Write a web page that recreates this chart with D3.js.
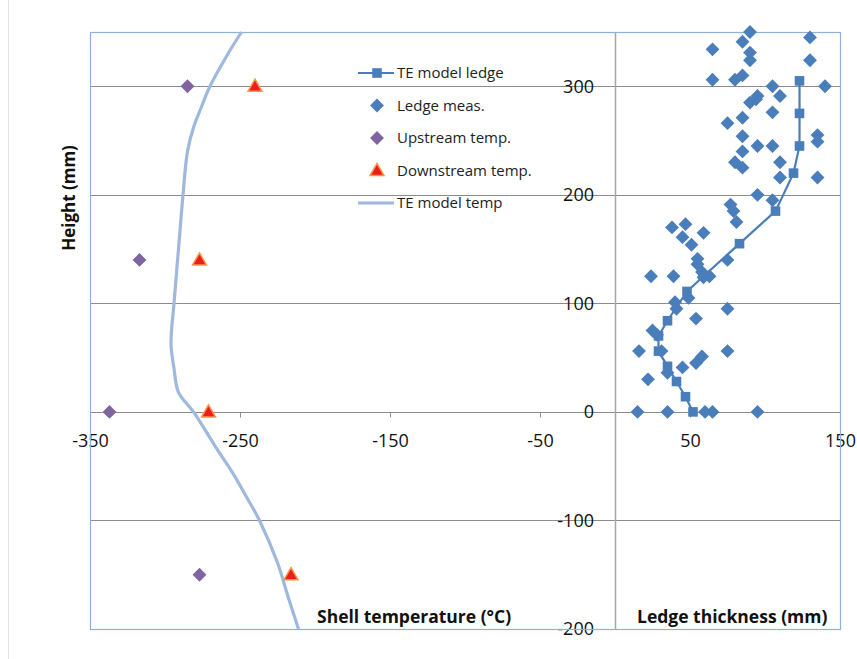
<!DOCTYPE html>
<html>
<head>
<meta charset="utf-8">
<script src="https://cdn.jsdelivr.net/npm/d3@7"></script>
<style>
  body { margin: 0; background: #fff; }
  svg { font-family: "Open Sans", "Liberation Sans", sans-serif; }
</style>
</head>
<body>
<div id="chart"></div>
<script>
// x ticks (shared axis: temperature left of 0, ledge thickness right of 0)
const xTicks = [-350, -250, -150, -50, 50, 150]
const yTicks = [300, 200, 100, 0, -100, -200]
const yGrid = [300, 200, 100, 0, -100]

// TE model temp : [temperature, height]
const modelTemp = [
  [-249, 350], [-258, 330], [-270, 300], [-276, 280], [-281, 262], [-285, 240],
  [-288, 200], [-291, 150], [-294, 100], [-296, 63], [-294, 40], [-291, 18],
  [-281, 0], [-265, -35], [-255, -56], [-245, -80], [-237, -100], [-225, -139],
  [-218, -170], [-211, -200]
]
// upstream / downstream shell temps : [temperature, height]
const upstream = [[-285, 300], [-317, 140], [-337, 0], [-277, -150]]
const downstream = [[-240, 300], [-277, 140], [-271, 0], [-216, -150]]

// TE model ledge : [thickness, height]
const modelLedge = [
  [52, 0], [47, 14], [41, 28], [35, 42], [29, 56], [29, 70], [35, 84], [48, 111],
  [59, 125], [83, 155], [107, 185], [119, 220], [123, 245], [123, 275], [123, 305]
]
// ledge measurements : [thickness, height]
const ledgeMeas = [
  [90, 350], [130, 345], [85, 341], [65, 334], [90, 331], [90, 324], [130, 324],
  [85, 310], [65, 306], [80, 306], [105, 300], [140, 300], [95, 291], [110, 291],
  [90, 285], [94, 288], [105, 276], [85, 271], [75, 266], [85, 254], [135, 255],
  [135, 249], [95, 245], [105, 245], [85, 240], [80, 230], [110, 230], [85, 225],
  [110, 216], [135, 216], [95, 200], [105, 195], [77, 191], [79, 185], [81, 175],
  [47, 173], [38, 170], [59, 165], [45, 161], [51, 154], [55, 141], [75, 140],
  [55, 136], [58, 129], [24, 125], [39, 125], [59, 124], [63, 125], [49, 105],
  [40, 101], [41, 95], [75, 95], [54, 86], [25, 75], [28, 71], [16, 56], [31, 56],
  [75, 56], [58, 51], [54, 45], [45, 41], [35, 36], [22, 30], [15, 0], [35, 0],
  [60, 0], [65, 0], [95, 0]
]

const legendItems = ['TE model ledge', 'Ledge meas.', 'Upstream temp.', 'Downstream temp.', 'TE model temp']

const width = 857, height = 659
const ledgeBlue = '#4a7ebb', purple = '#8064a2', tempLine = '#9fb8dd'

const svg = d3.select('#chart').append('svg')
  .attr('width', width)
  .attr('height', height)

const x = d3.scaleLinear().domain([-350, 150]).range([90, 840])
const y = d3.scaleLinear().domain([-200, 350]).range([629, 32])

// faint outer frame line
svg.append('line')
  .attr('x1', 8.5).attr('x2', 8.5).attr('y1', 0).attr('y2', height)
  .attr('stroke', '#e4e4e4')

// horizontal gridlines
svg.append('g').selectAll('line').data(yGrid).join('line')
  .attr('x1', x(-350)).attr('x2', x(150))
  .attr('y1', d => Math.round(y(d)) + 0.5).attr('y2', d => Math.round(y(d)) + 0.5)
  .attr('stroke', '#8c8c8c')

// vertical axis line at x = 0
svg.append('line')
  .attr('x1', Math.round(x(0)) + 0.5).attr('x2', Math.round(x(0)) + 0.5)
  .attr('y1', y(350)).attr('y2', y(-200))
  .attr('stroke', '#a6a6a6').attr('stroke-width', 1.5)

// plain hyphen minus like the original
const fmt = d => String(d)

// x axis on the zero line
const xAxis = svg.append('g')
  .attr('transform', `translate(0,${Math.round(y(0)) + 0.5})`)
  .call(d3.axisBottom(x).tickValues(xTicks).tickSize(5).tickFormat(fmt))
xAxis.select('.domain').remove()
xAxis.selectAll('line').attr('stroke', '#8c8c8c')
xAxis.selectAll('text')
  .attr('y', 22).attr('dy', '0.71em')
  .attr('font-size', 18).attr('fill', '#111')
  .attr('font-family', '"Open Sans", sans-serif')

// y axis labels beside x = 0
const yAxis = svg.append('g')
  .attr('transform', `translate(${x(0)},0)`)
  .call(d3.axisLeft(y).tickValues(yTicks).tickSize(0).tickPadding(21).tickFormat(fmt))
yAxis.select('.domain').remove()
yAxis.selectAll('text')
  .attr('font-size', 18).attr('fill', '#111')
  .attr('font-family', '"Open Sans", sans-serif')

// plot border
svg.append('rect')
  .attr('x', x(-350) + 0.5).attr('y', y(350) + 0.5)
  .attr('width', x(150) - x(-350)).attr('height', y(-200) - y(350))
  .attr('fill', 'none').attr('stroke', '#8eb0dc').attr('stroke-width', 1.2)

const diamond = d3.symbol().type(d3.symbolSquare).size(96)
const square = d3.symbol().type(d3.symbolSquare).size(92)
const triangle = d3.symbol().type(d3.symbolTriangle).size(84)

// TE model temp line
const tempPath = d3.line()
  .x(d => x(d[0])).y(d => y(d[1]))
  .curve(d3.curveCatmullRom)
svg.append('path')
  .datum(modelTemp)
  .attr('d', tempPath)
  .attr('fill', 'none').attr('stroke', tempLine).attr('stroke-width', 3.2)

// upstream temps
svg.append('g').selectAll('path').data(upstream).join('path')
  .attr('d', diamond)
  .attr('transform', d => `translate(${x(d[0])},${y(d[1])}) rotate(45)`)
  .attr('fill', purple)

// downstream temps
svg.append('g').selectAll('path').data(downstream).join('path')
  .attr('d', triangle)
  .attr('transform', d => `translate(${x(d[0])},${y(d[1]) + 1})`)
  .attr('fill', '#ee1c1c').attr('stroke', '#f79646').attr('stroke-width', 1.5)

// ledge measurements
svg.append('g').selectAll('path').data(ledgeMeas).join('path')
  .attr('d', diamond)
  .attr('transform', d => `translate(${x(d[0])},${y(d[1])}) rotate(45)`)
  .attr('fill', ledgeBlue)

// TE model ledge
svg.append('path')
  .datum(modelLedge)
  .attr('d', d3.line().x(d => x(d[0])).y(d => y(d[1])))
  .attr('fill', 'none').attr('stroke', ledgeBlue).attr('stroke-width', 2.2)
svg.append('g').selectAll('path').data(modelLedge).join('path')
  .attr('d', square)
  .attr('transform', d => `translate(${x(d[0])},${y(d[1])})`)
  .attr('fill', ledgeBlue)

// legend
const legend = svg.append('g').attr('transform', 'translate(377,73)')
const item = legend.selectAll('g').data(legendItems).join('g')
  .attr('transform', (d, i) => `translate(0,${i * 32.5})`)
item.append('text')
  .attr('x', 20).attr('dy', '0.35em')
  .attr('font-size', 15).attr('fill', '#222')
  .text(d => d)
item.filter((d, i) => i === 0).append('line')
  .attr('x1', -19).attr('x2', 17).attr('stroke', ledgeBlue).attr('stroke-width', 2.2)
item.filter((d, i) => i === 0).append('path').attr('d', square).attr('fill', ledgeBlue)
item.filter((d, i) => i === 1).append('path').attr('d', diamond).attr('transform', 'rotate(45)').attr('fill', ledgeBlue)
item.filter((d, i) => i === 2).append('path').attr('d', diamond).attr('transform', 'rotate(45)').attr('fill', purple)
item.filter((d, i) => i === 3).append('path').attr('d', triangle).attr('transform', 'translate(0,1)')
  .attr('fill', '#ee1c1c').attr('stroke', '#f79646').attr('stroke-width', 1.5)
item.filter((d, i) => i === 4).append('line')
  .attr('x1', -19).attr('x2', 17).attr('stroke', tempLine).attr('stroke-width', 3.2)

// axis titles
svg.append('text')
  .attr('transform', `translate(75,198) rotate(-90)`)
  .attr('text-anchor', 'middle')
  .attr('font-size', 17).attr('font-weight', 'bold').attr('fill', '#111')
  .text('Height (mm)')
svg.append('text')
  .attr('x', 317).attr('y', 623)
  .attr('font-size', 17.5).attr('font-weight', 'bold').attr('fill', '#111')
  .text('Shell temperature (°C)')
svg.append('text')
  .attr('x', 637).attr('y', 623)
  .attr('font-size', 17.5).attr('font-weight', 'bold').attr('fill', '#111')
  .text('Ledge thickness (mm)')
</script>
</body>
</html>
